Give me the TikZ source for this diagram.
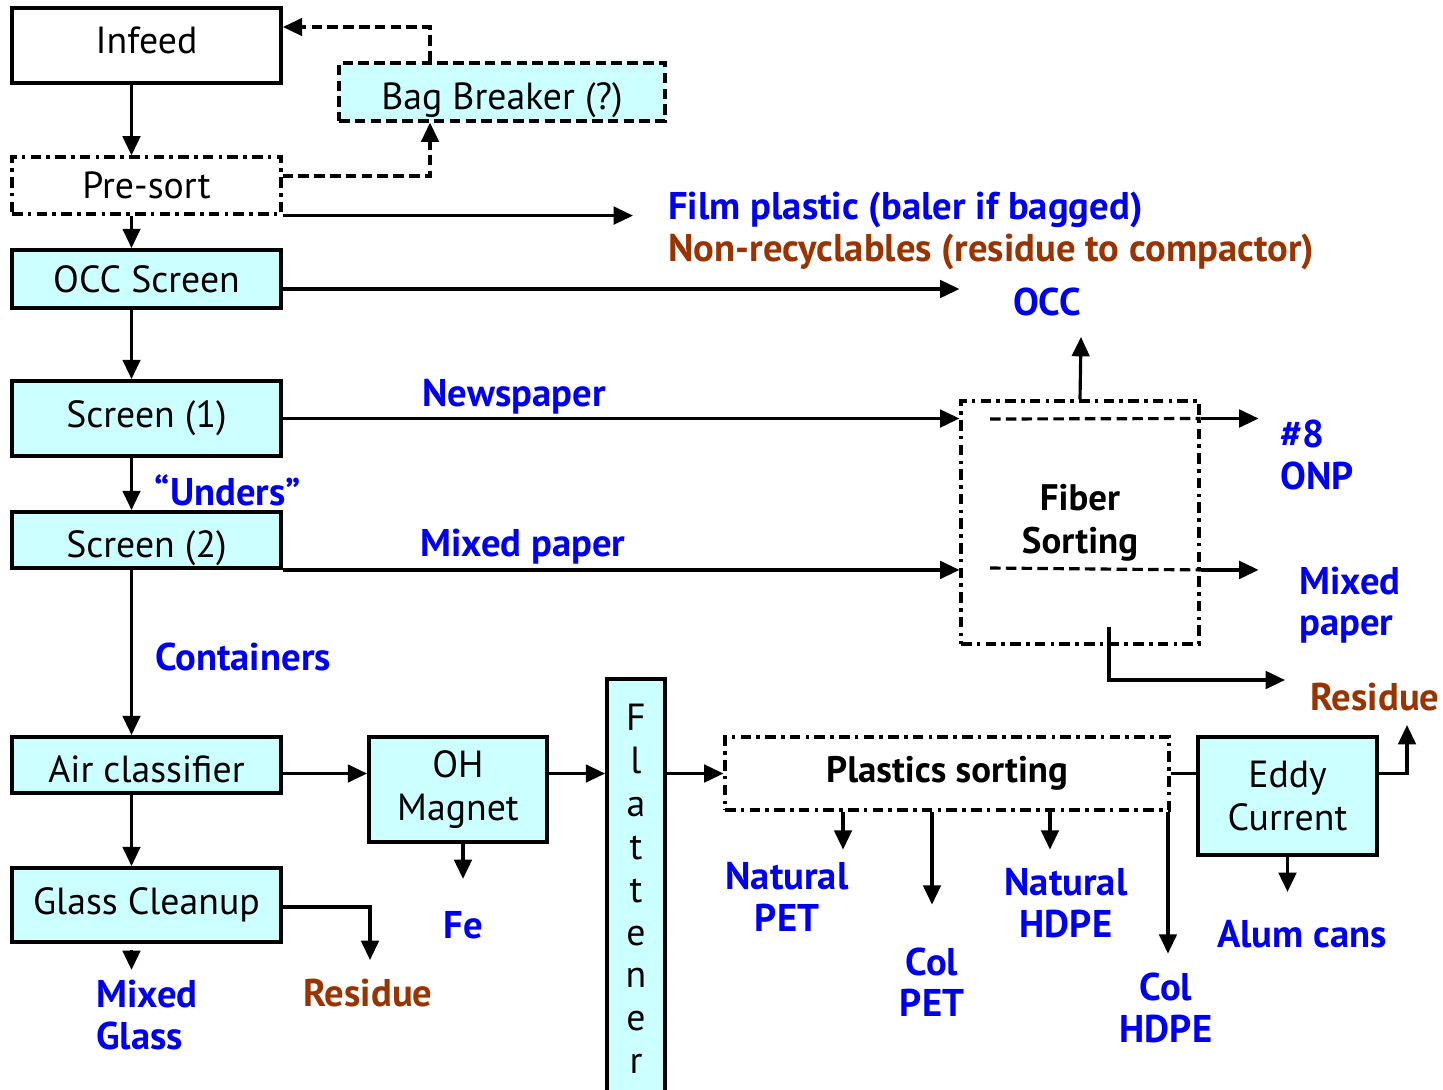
\documentclass[tikz,border=0pt]{standalone}
\usepackage{fontspec}
\setmainfont{PT Sans}
\usetikzlibrary{arrows.meta,positioning,calc}

\definecolor{boxcyan}{RGB}{204,255,255}
\definecolor{prodblue}{RGB}{0,0,240}
\definecolor{resbrown}{RGB}{153,51,0}

\tikzset{
  stage/.style={draw, line width=2.2pt, fill=boxcyan, inner sep=0pt, align=center,
    font=\fontsize{21.5}{24.5}\selectfont},
  sorter/.style={draw, line width=1.8pt, dash pattern=on 6pt off 3pt on 2pt off 3pt,
    inner sep=0pt, align=center, font=\bfseries\fontsize{21}{24.5}\selectfont},
  product/.style={text=prodblue, inner sep=0pt, align=center,
    font=\bfseries\fontsize{22}{23.5}\selectfont},
  waste/.style={product, text=resbrown},
  flow/.style={-{Triangle[length=11pt,width=10pt]}, line width=1.8pt},
  link/.style={line width=1.8pt},
}
% shift a box text up or down without moving the box
\newcommand{\nudge}[2]{\raisebox{#1}[\height][\depth]{#2}}

\begin{document}
\begin{tikzpicture}[x=0.02cm, y=-0.02cm]
    \useasboundingbox (0,0) rectangle (1443,1089);

    % main line
    \node[stage, fill=white, minimum width=5.38cm, minimum height=1.5cm] (infeed) at (146.5,45.5) {\nudge{2.8pt}{Infeed}};
    \node[stage, dash pattern=on 6pt off 3pt, line width=1.8pt, minimum width=6.52cm, minimum height=1.16cm] (bagbreaker) at (502,92) {\nudge{-4.5pt}{Bag Breaker (?)}};
    \node[sorter, font=\fontsize{21.5}{24.5}\selectfont, fill=white, minimum width=5.38cm, minimum height=1.14cm] (presort) at (146.5,185.5) {Pre-sort};
    \node[stage, minimum width=5.38cm, minimum height=1.16cm] (occscreen) at (146.5,279) {OCC Screen};
    \node[stage, minimum width=5.38cm, minimum height=1.5cm] (screenone) at (146.5,418.5) {Screen (1)};
    \node[stage, minimum width=5.38cm, minimum height=1.12cm] (screentwo) at (146.5,540) {\nudge{-4.5pt}{Screen (2)}};
    \node[stage, minimum width=5.38cm, minimum height=1.12cm] (airclass) at (146.5,765) {\nudge{-2.3pt}{Air classifier}};
    \node[stage, minimum width=5.38cm, minimum height=1.48cm] (glass) at (146.5,905) {Glass Cleanup};

    % containers line
    \node[stage, minimum width=3.56cm, minimum height=2.1cm] (magnet) at (458,789.5) {OH\\Magnet};
    \node[stage, minimum width=1.16cm, minimum height=8.4cm, font=\fontsize{21.5}{24.4}\selectfont] (flattener) at (636,889) {F\\l\\a\\t\\t\\e\\n\\e\\r};
    \node[sorter, fill=white, minimum width=8.88cm, minimum height=1.46cm] (plastics) at (947,773.5) {Plastics sorting};
    \node[stage, minimum width=3.58cm, minimum height=2.36cm] (eddy) at (1287.5,796) {Eddy\\Current};
    \node[sorter, minimum width=4.76cm, minimum height=4.86cm] (fiber) at (1080,522.5) {Fiber\\Sorting};

    % products
    \node[product, anchor=west] (film) at (668,210) {Film plastic (baler if bagged)};
    \node[waste, anchor=west] (nonrec) at (668,252) {Non-recyclables (residue to compactor)};
    \node[product] (occlbl) at (1047,302) {OCC};
    \node[product] (newspaper) at (514,397) {Newspaper};
    \node[product] (mixedlbl) at (523,547) {Mixed paper};
    \node[product] (unders) at (228,490) {“Unders”};
    \node[product] (containers) at (243,657) {Containers};
    \node[product, anchor=west, align=left] (onp) at (1280,455) {\#8\\ONP};
    \node[product, anchor=west, align=left] (mixedout) at (1299,605) {Mixed\\paper};
    \node[waste] (fiberres) at (1375,697) {Residue};
    \node[product] (fe) at (463,925) {Fe};
    \node[product, anchor=west, align=left] (mixedglass) at (96,1015) {Mixed\\Glass};
    \node[waste] (glassres) at (368,993) {Residue};
    \node[product] (natpet) at (787,897) {Natural\\PET};
    \node[product] (colpet) at (932,982) {Col\\PET};
    \node[product] (nathdpe) at (1066,903) {Natural\\HDPE};
    \node[product] (colhdpe) at (1166,1008) {Col\\HDPE};
    \node[product] (alum) at (1302,934) {Alum cans};

    % free ends
    \coordinate (filmend) at (633,213);
    \coordinate (occend) at (1081,337);
    \coordinate (fiberresend) at (1285,680);
    \coordinate (glassresend) at (370,960);
    \coordinate (eddyresend) at (1407,725);

    % bag breaker loop
    \draw[flow, dash pattern=on 6pt off 3pt] ([yshift=0.19cm]presort.east) -| ([xshift=-1.44cm]bagbreaker.south);
    \draw[flow, dash pattern=on 6pt off 3pt] ([xshift=-1.44cm]bagbreaker.north) |- ([yshift=0.37cm]infeed.east);

    % down the main line
    \draw[flow] ([xshift=-3mm]infeed.south) -- ([xshift=-3mm]presort.north);
    \draw[flow] ([xshift=-3mm]presort.south) -- ([xshift=-3mm]occscreen.north);
    \draw[flow] ([xshift=-3mm]occscreen.south) -- ([xshift=-3mm]screenone.north);
    \draw[flow] ([xshift=-3mm]screenone.south) -- ([xshift=-3mm]screentwo.north);
    \draw[flow] ([xshift=-3mm]screentwo.south) -- ([xshift=-3mm]airclass.north);
    \draw[flow] ([xshift=-3mm]airclass.south) -- ([xshift=-3mm]glass.north);
    \draw[flow] ([xshift=-3mm,yshift=-0.12cm]glass.south) -- ++(0,20);
    \draw[flow] ([yshift=-0.04cm]glass.east) -| (glassresend);

    % outputs to the right
    \draw[flow] (presort.south east) -- (presort.south east -| filmend);
    \draw[flow] ([yshift=-0.2cm]occscreen.east) -- ([yshift=-0.2cm]occscreen.east -| fiber.west);
    \draw[flow] (screenone.east) -- (screenone.east -| fiber.west);
    \draw[flow] (screentwo.south east) -- (screentwo.south east -| fiber.west);

    % fiber sorting
    \draw[flow] (fiber.north) -- (occend);
    \draw[link, dash pattern=on 6pt off 3pt] (990,419) -- (fiber.east |- screenone.east);
    \draw[flow] (fiber.east |- screenone.east) -- ++(58,0);
    \draw[link, dash pattern=on 6pt off 3pt] (990,568) -- (fiber.east |- screentwo.south east);
    \draw[flow] (fiber.east |- screentwo.south east) -- ++(58,0);
    \draw[flow] ([xshift=0.58cm,yshift=0.38cm]fiber.south) |- (fiberresend);

    % containers line
    \draw[flow] (airclass.east |- plastics) -- (magnet.west |- plastics);
    \draw[flow] (magnet.south -| fe) -- ++(0,35);
    \draw[flow] (magnet.east |- plastics) -- (flattener.west |- plastics);
    \draw[flow] (flattener.east |- plastics) -- (plastics.west);
    \draw[link] (plastics.east) -- (eddy.west |- plastics);
    \draw[flow] (eddy.east |- plastics) -| (eddyresend);
    \draw[flow] (eddy.south) -- ++(0,35);

    % plastics outputs
    \draw[flow] ([xshift=-2.08cm]plastics.south) -- ++(0,38);
    \draw[flow] ([xshift=-0.3cm]plastics.south) -- ++(0,93);
    \draw[flow] ([xshift=2.06cm]plastics.south) -- ++(0,38);
    \draw[flow] ([xshift=4.42cm]plastics.south) -- ++(0,142);
\end{tikzpicture}
\end{document}
